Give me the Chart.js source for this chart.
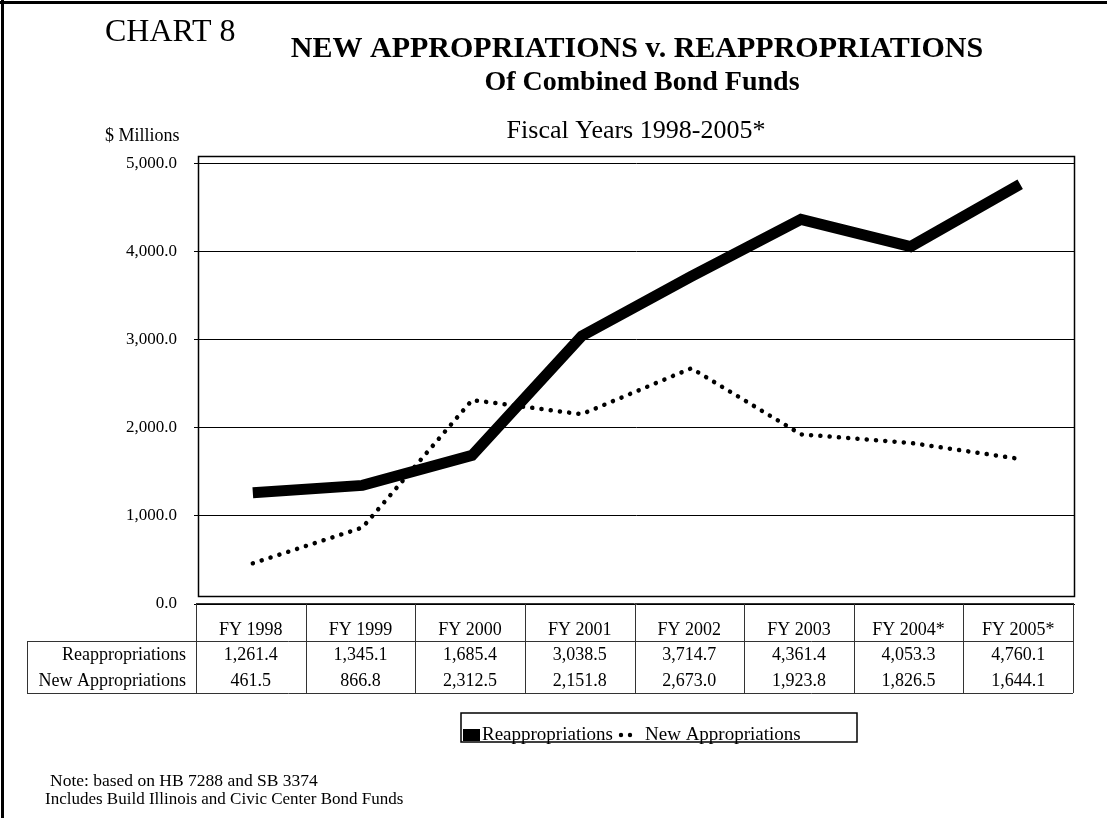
<!DOCTYPE html>
<html>
<head>
<meta charset="utf-8">
<title>Chart 8 - New Appropriations v. Reappropriations</title>
<script src="https://cdn.jsdelivr.net/npm/chart.js@4/dist/chart.umd.min.js"></script>
<style>
  html, body { margin: 0; padding: 0; background: #fff; overflow: hidden; }
  canvas { display: block; }
</style>
</head>
<body>
<canvas id="chart8" width="1107" height="818"></canvas>
<script>
// data ($ millions)
const fiscalYears = ['FY 1998', 'FY 1999', 'FY 2000', 'FY 2001', 'FY 2002', 'FY 2003', 'FY 2004*', 'FY 2005*'];
const reappropriations = [1261.4, 1345.1, 1685.4, 3038.5, 3714.7, 4361.4, 4053.3, 4760.1];
const newAppropriations = [461.5, 866.8, 2312.5, 2151.8, 2673.0, 1923.8, 1826.5, 1644.1];
const yTicks = [0, 1000, 2000, 3000, 4000, 5000];

const SERIF = "'Liberation Serif', 'DejaVu Serif', serif";
const fmt = v => v.toLocaleString('en-US', { minimumFractionDigits: 1, maximumFractionDigits: 1 });

// titles, frame, data table, legend box and notes
const decor = {
    id: 'decor',
    beforeDraw(chart) {
        const c = chart.ctx;
        c.save();
        c.fillStyle = '#fff';
        c.fillRect(0, 0, chart.width, chart.height);
        c.restore();
    },
    afterDraw(chart) {
        const c = chart.ctx;
        const area = chart.chartArea;
        const xs = chart.scales.x;
        c.save();

        // page border (top + left)
        c.fillStyle = '#000';
        c.fillRect(0, 1, chart.width, 3);
        c.fillRect(1, 0, 3, chart.height);

        // titles
        c.fillStyle = '#000';
        c.textBaseline = 'alphabetic';
        c.textAlign = 'left';
        c.font = '32px ' + SERIF;
        c.fillText('CHART 8', 105, 41);
        c.textAlign = 'center';
        c.font = 'bold 30px ' + SERIF;
        c.fillText('NEW APPROPRIATIONS v. REAPPROPRIATIONS', 637, 57);
        c.font = 'bold 28px ' + SERIF;
        c.fillText('Of Combined Bond Funds', 642, 90);
        c.font = '26px ' + SERIF;
        c.fillText('Fiscal Years 1998-2005*', 636, 138);
        c.textAlign = 'left';
        c.font = '18px ' + SERIF;
        c.fillText('$ Millions', 105, 141);

        // plot frame
        c.strokeStyle = '#000';
        c.lineWidth = 1.5;
        c.strokeRect(area.left + 0.5, area.top + 0.5, area.right - area.left - 1, area.bottom - area.top - 8);

        // data table
        const colW = (xs.getPixelForValue(1) - xs.getPixelForValue(0));
        const tLeft = xs.getPixelForValue(0) - colW / 2 - 2;
        const tRight = tLeft + colW * fiscalYears.length;
        const tTop = area.bottom - 1;
        const hdrBot = tTop + 38;
        const rowH = 26;
        const tBot = hdrBot + rowH * 2;
        const labLeft = 27;
        c.strokeStyle = '#333';
        c.lineWidth = 1;
        c.beginPath();
        c.moveTo(tLeft, tTop + 0.5); c.lineTo(tRight, tTop + 0.5);
        c.moveTo(labLeft, hdrBot + 0.5); c.lineTo(tRight, hdrBot + 0.5);
        c.moveTo(labLeft, tBot + 0.5); c.lineTo(tRight, tBot + 0.5);
        c.moveTo(labLeft + 0.5, hdrBot); c.lineTo(labLeft + 0.5, tBot);
        for (let i = 0; i <= fiscalYears.length; i++) {
            const x = Math.round(tLeft + colW * i) + 0.5;
            c.moveTo(x, tTop); c.lineTo(x, tBot);
        }
        c.stroke();

        c.font = '18px ' + SERIF;
        c.fillStyle = '#000';
        c.textBaseline = 'middle';
        c.textAlign = 'center';
        fiscalYears.forEach((fy, i) => {
            const cx = tLeft + colW * (i + 0.5);
            c.fillText(fy, cx, tTop + 27);
            c.fillText(fmt(reappropriations[i]), cx, hdrBot + rowH / 2 + 1);
            c.fillText(fmt(newAppropriations[i]), cx, hdrBot + rowH * 1.5 + 1);
        });
        c.textAlign = 'right';
        c.fillText('Reappropriations', tLeft - 10, hdrBot + rowH / 2 + 1);
        c.fillText('New Appropriations', tLeft - 10, hdrBot + rowH * 1.5 + 1);

        // legend box
        c.strokeStyle = '#000';
        c.lineWidth = 1.5;
        c.strokeRect(461, 713, 396, 29);
        c.fillRect(463, 729, 17, 12);
        c.textAlign = 'left';
        c.textBaseline = 'alphabetic';
        c.font = '19px ' + SERIF;
        c.fillText(chart.data.datasets[0].label, 482, 740);
        c.beginPath();
        c.arc(621, 735, 2.2, 0, Math.PI * 2);
        c.arc(630, 735, 2.2, 0, Math.PI * 2);
        c.fill();
        c.fillText(chart.data.datasets[1].label, 645, 740);

        // notes
        c.font = '17.5px ' + SERIF;
        c.fillText('Note: based on HB 7288 and SB 3374', 50, 786);
        c.font = '17px ' + SERIF;
        c.fillText('Includes Build Illinois and Civic Center Bond Funds', 45, 804);

        c.restore();
    }
};

new Chart(document.getElementById('chart8'), {
    type: 'line',
    data: {
        labels: fiscalYears,
        datasets: [
            {
                label: 'Reappropriations',
                data: reappropriations,
                borderColor: '#000',
                borderWidth: 11,
                borderJoinStyle: 'miter',
                pointRadius: 0,
                tension: 0
            },
            {
                label: 'New Appropriations',
                data: newAppropriations,
                borderColor: '#000',
                borderWidth: 4.5,
                borderDash: [0.1, 9.2],
                borderCapStyle: 'round',
                pointRadius: 0,
                tension: 0
            }
        ]
    },
    options: {
        responsive: false,
        animation: false,
        devicePixelRatio: 1,
        layout: { padding: { top: 156, right: 32, bottom: 214, left: 0 } },
        plugins: {
            legend: { display: false },
            title: { display: false },
            tooltip: { enabled: false }
        },
        scales: {
            x: {
                display: false,
                offset: true
            },
            y: {
                min: 0,
                max: 5080,
                afterFit: s => { s.width = 198; },
                afterBuildTicks: s => { s.ticks = yTicks.map(v => ({ value: v })); },
                border: { display: false },
                grid: { color: '#000', lineWidth: 1, tickLength: 4, drawTicks: true, tickColor: '#000' },
                ticks: {
                    color: '#000',
                    padding: 17,
                    font: { family: SERIF, size: 17 },
                    callback: v => fmt(v)
                }
            }
        }
    },
    plugins: [decor]
});
</script>
</body>
</html>
